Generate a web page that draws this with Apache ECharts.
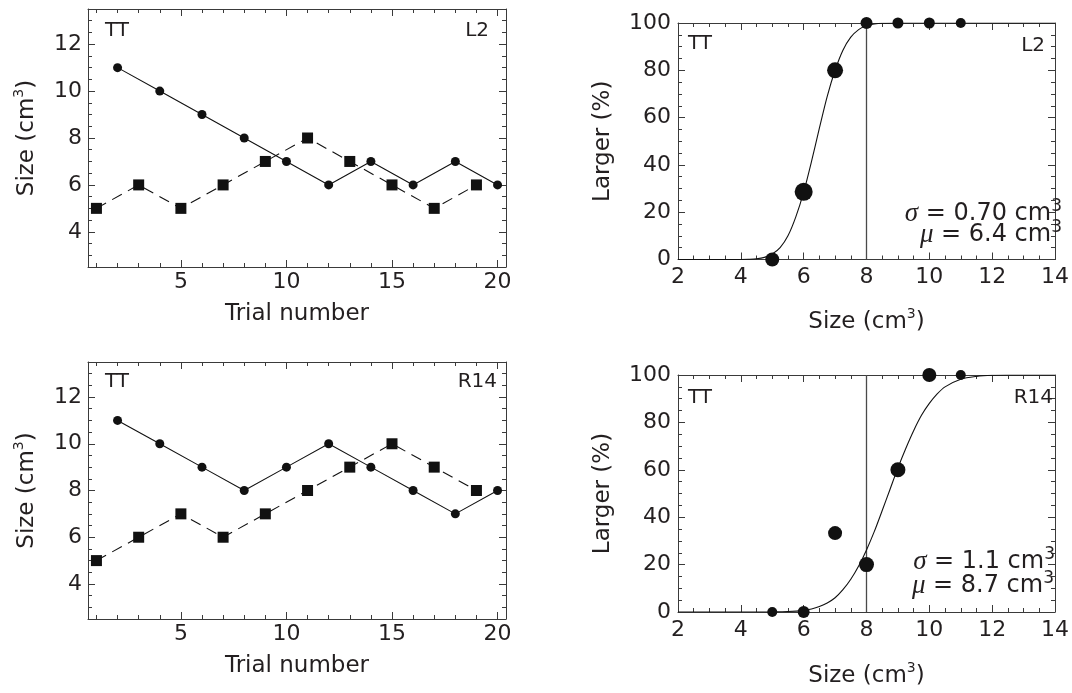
<!DOCTYPE html>
<html><head><meta charset="utf-8">
<script src="https://cdn.jsdelivr.net/npm/echarts@6/dist/echarts.min.js"></script>
<style>html,body{margin:0;padding:0;background:#fff}#c{width:1072px;height:693px}</style>
</head><body><div id="c"></div>
<script>
// ---------- data ----------
const trialsOdd = [1, 3, 5, 7, 9, 11, 13, 15, 17, 19];
const trialsEven = [2, 4, 6, 8, 10, 12, 14, 16, 18, 20];
const l2Circles = [11, 10, 9, 8, 7, 6, 7, 6, 7, 6];
const l2Squares = [5, 6, 5, 6, 7, 8, 7, 6, 5, 6];
const r14Circles = [11, 10, 9, 8, 9, 10, 9, 8, 7, 8];
const r14Squares = [5, 6, 7, 6, 7, 8, 9, 10, 9, 8];

const sizeLevels = [5, 6, 7, 8, 9, 10, 11];
const l2Larger = [0, 28.6, 80, 100, 100, 100, 100];
const r14Larger = [0, 0, 33.3, 20, 60, 100, 100];
const l2DotDiam = [14, 18, 16, 12, 11, 11, 10];
const r14DotDiam = [10, 12, 14, 15, 15, 14, 10];

const l2FitX = [2, 3, 3.5, 4, 4.25, 4.5, 4.75, 5, 5.25, 5.5, 5.75, 6, 6.25, 6.5, 6.75, 7, 7.25, 7.5, 7.75, 8, 8.25, 8.5, 9, 10, 14];
const l2FitY = [0, 0, 0, 0.03, 0.1, 0.3, 0.9, 2.3, 5, 10, 18, 28.5, 41.5, 55.5, 69, 80, 88.5, 94, 97.2, 98.9, 99.6, 99.9, 100, 100, 100];
const r14FitX = [2, 4, 4.5, 5, 5.5, 6, 6.25, 6.5, 6.75, 7, 7.25, 7.5, 7.75, 8, 8.25, 8.5, 8.75, 9, 9.25, 9.5, 9.75, 10, 10.25, 10.5, 11, 11.5, 12, 12.5, 13, 14];
const r14FitY = [0, 0, 0.01, 0.04, 0.2, 0.7, 1.3, 2.3, 3.8, 6, 9.4, 13.8, 19.4, 26.2, 34, 42.8, 51.8, 60.8, 69, 76.5, 83, 88, 92, 95, 98.2, 99.4, 99.9, 100, 100, 100];
const standardSize = 8;

const trialTicks = [5, 10, 15, 20];
const trialMinorTicks = [1, 2, 3, 4, 5, 6, 7, 8, 9, 10, 11, 12, 13, 14, 15, 16, 17, 18, 19, 20];
const sizeTicks = [4, 6, 8, 10, 12];
const sizeMinorTicks = [3, 3.5, 4, 4.5, 5, 5.5, 6, 6.5, 7, 7.5, 8, 8.5, 9, 9.5, 10, 10.5, 11, 11.5, 12, 12.5, 13];
const cubeTicks = [2, 4, 6, 8, 10, 12, 14];
const cubeMinorTicks = [2, 2.5, 3, 3.5, 4, 4.5, 5, 5.5, 6, 6.5, 7, 7.5, 8, 8.5, 9, 9.5, 10, 10.5, 11, 11.5, 12, 12.5, 13, 13.5, 14];
const pctTicks = [0, 20, 40, 60, 80, 100];
const pctMinorTicks = [0, 5, 10, 15, 20, 25, 30, 35, 40, 45, 50, 55, 60, 65, 70, 75, 80, 85, 90, 95, 100];

// ---------- styling ----------
const FONT = 'DejaVu Sans';
const INK = '#231f20';
const FRAME = '#3a3a3a';

const nameRich = {
  a: { fontFamily: FONT, fontSize: 23, color: INK, lineHeight: 30 },
  s: { fontFamily: FONT, fontSize: 14, color: INK, lineHeight: 14, verticalAlign: 'top' }
};

function axesFor(grid, dim, range, major, minor, labelMargin, name, nameGap) {
  const isX = dim === 'x';
  const base = { gridIndex: grid, type: 'value', min: range[0], max: range[1],
    splitLine: { show: false }, axisPointer: { show: false }, silent: true };
  const posA = isX ? 'bottom' : 'left', posB = isX ? 'top' : 'right';
  const line = { show: true, onZero: false, lineStyle: { color: FRAME, width: 1 } };
  const noLine = { show: false, onZero: false };
  const majT = { show: true, inside: true, length: 7, customValues: major, lineStyle: { color: FRAME, width: 1 } };
  const minT = { show: true, inside: true, length: 4, customValues: minor, lineStyle: { color: FRAME, width: 1 } };
  return [
    Object.assign({}, base, { position: posA, axisLine: line, axisTick: majT,
      axisLabel: { show: true, customValues: major, fontFamily: FONT, fontSize: 22, color: INK, margin: labelMargin, showMinLabel: true, showMaxLabel: true },
      name: name, nameLocation: 'middle', nameGap: nameGap,
      nameTextStyle: { fontFamily: FONT, fontSize: 23, color: INK, rich: nameRich } }),
    Object.assign({}, base, { position: posA, axisLine: noLine, axisTick: minT, axisLabel: { show: false } }),
    Object.assign({}, base, { position: posB, axisLine: line, axisTick: majT, axisLabel: { show: false } }),
    Object.assign({}, base, { position: posB, axisLine: noLine, axisTick: minT, axisLabel: { show: false } })
  ];
}

const grids = [
  { left: 88, top: 9, width: 418, height: 258 },
  { left: 678, top: 23, width: 383, height: 236.5 },
  { left: 88, top: 362, width: 418, height: 257 },
  { left: 678, top: 375, width: 383, height: 237 }
];

const trialName = '{a|Trial number}';
const sizeName = '{a|Size (cm}{s|3}{a|)}';
const largerName = '{a|Larger (%)}';

const xAxes = [].concat(
  axesFor(0, 'x', [0.6, 20.4], trialTicks, trialMinorTicks, 4, trialName, 32),
  axesFor(1, 'x', [2, 14], cubeTicks, cubeMinorTicks, 7, sizeName, 48),
  axesFor(2, 'x', [0.6, 20.4], trialTicks, trialMinorTicks, 4, trialName, 32),
  axesFor(3, 'x', [2, 14], cubeTicks, cubeMinorTicks, 7, sizeName, 49)
);
const yAxes = [].concat(
  axesFor(0, 'y', [2.5, 13.5], sizeTicks, sizeMinorTicks, 6, sizeName, 46),
  axesFor(1, 'y', [0, 100], pctTicks, pctMinorTicks, 7, largerName, 60),
  axesFor(2, 'y', [2.5, 13.5], sizeTicks, sizeMinorTicks, 6, sizeName, 46),
  axesFor(3, 'y', [0, 100], pctTicks, pctMinorTicks, 7, largerName, 60)
);

function pairs(xs, ys) { return xs.map((x, i) => [x, ys[i]]); }

function staircase(g, xs, ys, symbol, size, dashed) {
  return { type: 'line', xAxisIndex: 4 * g, yAxisIndex: 4 * g, data: pairs(xs, ys),
    symbol: symbol, symbolSize: size, showSymbol: true,
    lineStyle: { color: '#111', width: 1.1, type: dashed ? [11, 7] : 'solid' },
    itemStyle: { color: '#111', opacity: 1 }, silent: true, z: 3 };
}

function psychometric(g, fx, fy, lx, ly, diam) {
  const ymax = 100;
  return [
    { type: 'line', xAxisIndex: 4 * g, yAxisIndex: 4 * g, data: [[standardSize, 0], [standardSize, ymax]],
      symbol: 'none', lineStyle: { color: '#4a4a4a', width: 1.3 }, silent: true, z: 2 },
    { type: 'line', xAxisIndex: 4 * g, yAxisIndex: 4 * g, data: pairs(fx, fy), smooth: 0.3,
      symbol: 'none', lineStyle: { color: '#111', width: 1.1 }, silent: true, z: 3 },
    { type: 'scatter', xAxisIndex: 4 * g, yAxisIndex: 4 * g, data: pairs(lx, ly),
      symbol: 'circle', symbolSize: (v, p) => diam[p.dataIndex],
      itemStyle: { color: '#111', opacity: 1 }, silent: true, z: 4 }
  ];
}

const series = [].concat(
  [staircase(0, trialsEven, l2Circles, 'circle', 9, false), staircase(0, trialsOdd, l2Squares, 'rect', 11, true)],
  psychometric(1, l2FitX, l2FitY, sizeLevels, l2Larger, l2DotDiam),
  [staircase(2, trialsEven, r14Circles, 'circle', 9, false), staircase(2, trialsOdd, r14Squares, 'rect', 11, true)],
  psychometric(3, r14FitX, r14FitY, sizeLevels, r14Larger, r14DotDiam)
);

const annRich = {
  g: { fontFamily: 'Liberation Serif', fontStyle: 'italic', fontSize: 27, fill: INK, lineHeight: 32 },
  t: { fontFamily: FONT, fontSize: 24, fill: INK, lineHeight: 32 },
  s: { fontFamily: FONT, fontSize: 17, fill: INK, lineHeight: 17, verticalAlign: 'top' }
};
function tag(x, y, text, align) {
  return { type: 'text', x: x, y: y, silent: true, z: 10,
    style: { text: text, font: '20px "DejaVu Sans"', fill: INK, align: align, verticalAlign: 'top' } };
}
function ann(x, y, text) {
  return { type: 'text', x: x, y: y, silent: true, z: 10,
    style: { text: text, rich: annRich, font: '24px "DejaVu Sans"', fill: INK, align: 'right', verticalAlign: 'top' } };
}

const graphics = [
  tag(105, 21, 'TT', 'left'), tag(489, 21, 'L2', 'right'),
  tag(688, 34, 'TT', 'left'), tag(1045, 36, 'L2', 'right'),
  tag(105, 372, 'TT', 'left'), tag(497, 372, 'R14', 'right'),
  tag(688, 388, 'TT', 'left'), tag(1053, 388, 'R14', 'right'),
  ann(1062, 198, '{g|σ}{t| = 0.70 cm}{s|3}'),
  ann(1062, 219, '{g|μ}{t| = 6.4 cm}{s|3}'),
  ann(1055, 546, '{g|σ}{t| = 1.1 cm}{s|3}'),
  ann(1054, 570, '{g|μ}{t| = 8.7 cm}{s|3}')
];

const chart = echarts.init(document.getElementById('c'), null, { renderer: 'canvas' });
chart.setOption({
  animation: false,
  backgroundColor: '#ffffff',
  grid: grids,
  xAxis: xAxes,
  yAxis: yAxes,
  series: series,
  graphic: graphics
});
</script></body></html>
